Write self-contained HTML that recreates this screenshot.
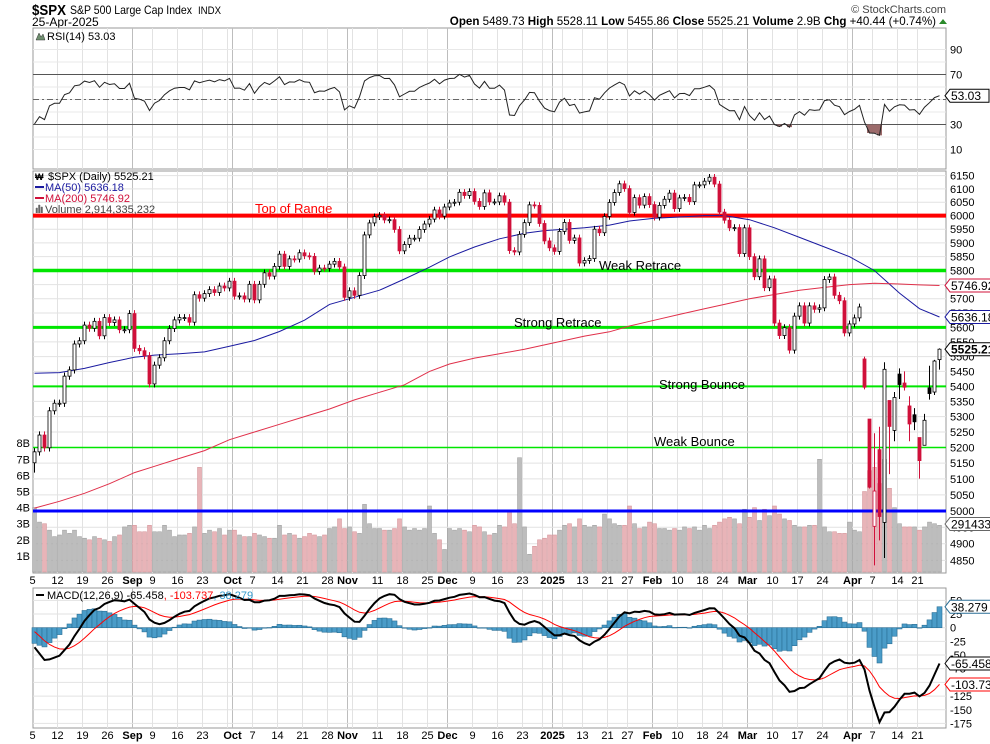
<!DOCTYPE html>
<html><head><meta charset="utf-8"><title>$SPX Daily</title>
<style>
html,body{margin:0;padding:0;background:#fff;}
svg{display:block;font-family:"Liberation Sans",Arial,sans-serif;}
text{font-size:11px;fill:#000;}
</style></head>
<body>
<svg id="chart" width="990" height="744" viewBox="0 0 990 744" xmlns="http://www.w3.org/2000/svg">
<rect x="0" y="0" width="990" height="744" fill="#fff"/>
<g>
<text x="32" y="15" textLength="34" lengthAdjust="spacingAndGlyphs" style="font-size:15px;font-weight:bold">$SPX</text>
<text x="70" y="14" textLength="122" lengthAdjust="spacingAndGlyphs" style="font-size:12px">S&amp;P 500 Large Cap Index</text>
<text x="198" y="14" textLength="23" lengthAdjust="spacingAndGlyphs" style="font-size:11px">INDX</text>
<text x="32" y="26" style="font-size:12px">25-Apr-2025</text>
<text x="946" y="13" text-anchor="end" style="font-size:11px;fill:#444">© StockCharts.com</text>
<text x="936" y="25" text-anchor="end" style="font-size:11.6px"><tspan font-weight="bold">Open</tspan> 5489.73  <tspan font-weight="bold">High</tspan> 5528.11  <tspan font-weight="bold">Low</tspan> 5455.86  <tspan font-weight="bold">Close</tspan> 5525.21  <tspan font-weight="bold">Volume</tspan> 2.9B  <tspan font-weight="bold">Chg</tspan> +40.44 (+0.74%)</text>
<path d="M939 24 L943 19 L947 24 Z" fill="#2a8a2a"/>
</g>
<g id="g-grid"></g>
<g id="g-vol"></g>
<g id="g-lines"></g>
<g id="g-ma"></g>
<g id="g-candles"></g>
<g id="g-rsi"></g>
<g id="g-macd"></g>
<g id="g-axes"></g>
<g id="g-labels"></g>
</svg>
<script>
// ---- data ----
const closes = [
5186,5240,5199,5319,5344,5344,5434,5455,5543,5554,5608,5597,5621,5571,5634,5617,5626,5592,5592,5648,
5528,5520,5503,5408,5471,5496,5554,5596,5626,5634,5634,5618,5714,5702,5718,5732,5722,5745,5738,5762,
5709,5710,5699,5751,5696,5751,5792,5780,5815,5859,5815,5842,5841,5864,5853,5851,5797,5809,5808,5823,5833,5813,5705,
5728,5712,5782,5929,5973,5996,6001,5984,5985,5949,5871,5894,5917,5917,5949,5969,5987,6021,5998,6032,
6047,6050,6087,6075,6090,6053,6034,6085,6051,6051,6074,6050,5872,5867,5931,5974,6040,6038,5971,5907,5882,
5869,5942,5975,5909,5918,5827,5836,5843,5950,5937,5997,6049,6086,6119,6101,6012,6067,6039,6071,6041,
5994,6038,6061,6084,6026,6066,6068,6052,6115,6115,6129,6144,6118,6013,5983,5955,5956,5861,5955,
5850,5778,5842,5739,5770,5615,5572,5599,5522,5639,5675,5615,5675,5663,5668,5768,5777,5712,5693,5581,5612,
5633,5671,5397,5074,5062,4983,5457,5268,5363,5406,5397,5276,5283,5158,5288,5376,5485,5525.21];
const volumes = [
4.0,3.1,3.0,2.6,2.2,2.3,2.6,2.4,2.6,2.2,2.1,2.0,2.2,2.1,2.0,1.9,2.2,2.3,2.8,2.9,
2.9,2.5,2.5,2.9,2.5,2.5,2.9,2.6,2.2,2.3,2.3,2.4,2.8,6.5,2.4,2.6,2.5,2.7,2.3,2.6,
2.6,2.3,2.2,2.2,2.4,2.3,2.2,2.1,2.1,2.9,2.3,2.4,2.3,2.1,2.2,2.4,2.3,2.2,2.3,2.7,2.8,3.3,2.7,
2.8,2.5,2.4,4.2,3.0,2.7,2.7,2.6,2.6,2.7,3.3,2.8,2.6,2.7,2.6,2.7,4.1,2.4,2.0,1.4,
2.7,2.6,2.7,2.6,2.5,2.9,2.8,2.5,2.3,2.4,2.9,2.8,3.8,3.0,7.1,2.8,1.1,1.6,2.0,2.1,2.3,
2.3,2.6,2.9,3.0,2.8,3.3,2.9,2.8,2.9,2.8,3.6,3.3,3.0,2.9,2.9,4.1,3.0,2.7,2.8,3.1,
3.0,2.7,2.7,2.6,2.7,2.6,2.8,2.7,2.8,2.6,2.9,2.7,2.9,3.1,3.3,3.4,3.3,3.0,3.9,
3.4,4.0,3.2,3.9,3.5,4.1,3.6,3.3,3.2,2.9,2.8,2.8,2.9,2.9,7.0,2.8,2.5,2.5,2.4,2.4,3.1,
2.6,2.5,5.0,6.3,6.5,5.5,7.0,5.2,4.0,3.0,2.8,2.8,2.8,2.6,2.8,3.1,3.0,2.9];
// sparse OHLC overrides (day index -> value)
const openOverride = {0:5151,166:5492,167:5292,168:4953,169:5193,170:4965,171:5353,172:5255,173:5441,174:5411,175:5335,176:5306,177:5232,178:5207,179:5395,180:5381,181:5489.73};
const highOverride = {166:5500,167:5292,168:5246,169:5267,170:5481,171:5353,172:5381,173:5460,174:5450,175:5367,176:5328,177:5232,178:5309,179:5469,180:5489,181:5528.11};
const lowOverride  = {0:5120,166:5390,167:5070,168:4835,169:4910,170:4857,171:5115,172:5220,173:5358,174:5386,175:5220,176:5256,177:5101,178:5207,179:5356,180:5371,181:5455.86};
// moving averages read at each week start + final day
const ma50Values  = [5444,5446,5460,5480,5498,5505,5510,5516,5535,5555,5586,5625,5680,5705,5730,5770,5812,5849,5885,5915,5935,5945,5950,5955,5965,5980,5990,5995,6000,6000,5985,5955,5920,5885,5850,5800,5720,5665,5636.18];
const ma200Values = [5009,5030,5055,5085,5120,5140,5165,5190,5225,5250,5275,5300,5325,5355,5380,5405,5450,5475,5495,5510,5525,5540,5555,5570,5585,5605,5625,5645,5665,5680,5700,5715,5730,5740,5750,5755,5752,5749,5746.92];
const priceTicks = [4850,4900,4950,5000,5050,5100,5150,5200,5250,5300,5350,5400,5450,5500,5550,5600,5650,5700,5750,5800,5850,5900,5950,6000,6050,6100,6150];
const volTicks = [1,2,3,4,5,6,7,8];
const rsiTicks = [10,30,50,70,90];
const macdTicks = [50,25,0,-25,-50,-75,-100,-125,-150,-175];
const levelPrices = [6000,5800,5600,5400,5200,5000];
const levelNames  = ["Top of Range","Weak Retrace","Strong Retrace","Strong Bounce","Weak Bounce",""];
const holidays = ["2024-09-02","2024-11-28","2024-12-25","2025-01-01","2025-01-09","2025-01-20","2025-02-17","2025-04-18"];
const monthNames = ["2025","Feb","Mar","Apr","May","Jun","Jul","Aug","Sep","Oct","Nov","Dec"];

// ---- scales ----
const X0=34.5, DX=5, L=33, R=946;
const px = i => X0 + DX*i;
const py = p => 511 - 1620*Math.log(p/5000);
const vy = v => 572 - 16.1*v;
const ry = r => 162 - 1.25*r;
const my = m => 627.7 - 0.547*m;
const NS="http://www.w3.org/2000/svg";
function mk(parent, tag, attrs, txt){const e=document.createElementNS(NS,tag);for(const k in attrs)e.setAttribute(k,attrs[k]);if(txt!==undefined)e.textContent=txt;parent.appendChild(e);return e;}
const G = id => document.getElementById(id);

// ---- dates ----
const dates=[];
{let d=new Date(Date.UTC(2024,7,5));const end=Date.UTC(2025,3,25);
 while(d.getTime()<=end){const w=d.getUTCDay();const s=d.toISOString().slice(0,10);
  if(w>0&&w<6&&holidays.indexOf(s)<0)dates.push(new Date(d.getTime()));
  d=new Date(d.getTime()+86400000);}}
const N = closes.length;
const weekStarts=[], monthStarts=[];
for(let i=0;i<N;i++){
  if(i===0 || (dates[i]-dates[i-1])>86400000*1.5 && dates[i].getUTCDay()<=dates[i-1].getUTCDay()) weekStarts.push(i);
  if(i>0 && dates[i].getUTCMonth()!==dates[i-1].getUTCMonth()) monthStarts.push(i);
}
const maIdx = weekStarts.concat([N-1]);

// ---- panels & grid ----
const grid=G('g-grid');
const panels=[["rsi-panel",28,169],["price-panel",171,573],["macd-panel",588,728]];
panels.forEach(p=>{
  const r=mk(grid,'rect',{x:L,y:p[1],width:R-L,height:p[2]-p[1],fill:'#fff',stroke:'#999','stroke-width':1});
  
  
});
panels.forEach(p=>{
  weekStarts.forEach(i=>{ if(i===0)return;
    const l=mk(grid,'line',{x1:px(i)-2,x2:px(i)-2,y1:p[1],y2:p[2],stroke:'#e2e2e2'});
    
    
  });
  monthStarts.forEach(i=>{
    const l=mk(grid,'line',{x1:px(i)-2,x2:px(i)-2,y1:p[1],y2:p[2],stroke:'#bdbdbd'});
    
    
  });
});
priceTicks.forEach(t=>{
  const l=mk(grid,'line',{x1:L,x2:R,y1:py(t),y2:py(t),stroke:'#e2e2e2'});
  
  
});
for(let r=10;r<=90;r+=10){
  const l=mk(grid,'line',{x1:L,x2:R,y1:ry(r),y2:ry(r),stroke:'#e8e8e8'});
  
  
}
macdTicks.forEach(t=>{
  const l=mk(grid,'line',{x1:L,x2:R,y1:my(t),y2:my(t),stroke:'#e2e2e2'});
  
  
});

// ---- OHLC ----
const opens=[],highs=[],lows=[];
for(let i=0;i<N;i++){
  const o = openOverride[i]!==undefined?openOverride[i]:closes[i-1];
  opens.push(o);
  highs.push(highOverride[i]!==undefined?highOverride[i]:Math.max(o,closes[i])+12);
  lows.push(lowOverride[i]!==undefined?lowOverride[i]:Math.min(o,closes[i])-12);
}

// ---- volume ----
const gv=G('g-vol');
for(let i=0;i<N;i++){
  const down = i>0 && closes[i]<closes[i-1];
  const b=mk(gv,'rect',{x:px(i)-2,y:vy(volumes[i]),width:4,height:572-vy(volumes[i]),fill:down?'#e8b4b8':'#bdbdbd',stroke:down?'#d28d93':'#9a9a9a','stroke-width':0.5});
  
  
}

// ---- support / resistance lines ----
const gl=G('g-lines');
const lineStyles=[['#ff0000',4],['#00e600',3.5],['#00e600',3],['#00e600',2],['#00e600',1.5],['#0000ff',3]];
levelPrices.forEach((p,k)=>{
  const l=mk(gl,'line',{x1:L,x2:R,y1:py(p),y2:py(p),stroke:lineStyles[k][0],'stroke-width':lineStyles[k][1]});
  
  
});
const lblPos=[[255,213,'#ff0000'],[599,270,'#000'],[514,327,'#000'],[659,389,'#000'],[654,446,'#000']];
levelNames.forEach((n,k)=>{ if(!n)return;
  const t=mk(gl,'text',{x:lblPos[k][0],y:lblPos[k][1],style:'font-size:13px;fill:'+lblPos[k][2]},n);
  
  
});

// ---- moving averages ----
const gm=G('g-ma');
function maPath(vals){return vals.map((v,k)=>(k?'L':'M')+px(maIdx[k]).toFixed(1)+' '+py(v).toFixed(1)).join(' ');}
const m50=mk(gm,'path',{d:maPath(ma50Values),fill:'none',stroke:'#1a1aa0','stroke-width':1});


const m200=mk(gm,'path',{d:maPath(ma200Values),fill:'none',stroke:'#e0304a','stroke-width':1});



// ---- candles ----
const gc=G('g-candles');
for(let i=0;i<N;i++){
  const o=opens[i],c=closes[i];
  const down = i>0 && c<closes[i-1];
  const col = down?'#d0103a':'#000';
  const x=px(i);
  const w=mk(gc,'line',{x1:x,x2:x,y1:py(highs[i]),y2:py(lows[i]),stroke:col,'stroke-width':1});
  
  
  const top=py(Math.max(o,c)), bot=py(Math.min(o,c));
  const b=mk(gc,'rect',{x:x-1.5,y:top,width:3,height:Math.max(1,bot-top),fill:c<o?col:'#fff',stroke:col,'stroke-width':0.8});
  
  
}

// ---- RSI ----
const gr=G('g-rsi');
const rsi=[];
{let ag=15,al=22,prev=5346;
 for(let i=0;i<N;i++){const ch=closes[i]-prev;prev=closes[i];
  ag=(ag*13+Math.max(ch,0))/14; al=(al*13+Math.max(-ch,0))/14; rsi.push(100-100/(1+ag/al));}}
[[70,'#555','none'],[30,'#555','none'],[50,'#666','6 3 2 3']].forEach(s=>{
  const l=mk(gr,'line',{x1:L,x2:R,y1:ry(s[0]),y2:ry(s[0]),stroke:s[1],'stroke-dasharray':s[2]});
  
  
});
{let d='';for(let i=0;i<N;i++){ if(rsi[i]<30){ d+='M'+(px(i)-2.5)+' '+ry(30)+' L'+(px(i)+2.5)+' '+ry(30)+' L'+(px(i)+2.5)+' '+ry(rsi[i])+' L'+(px(i)-2.5)+' '+ry(rsi[i])+' Z ';}}
 if(d){const f=mk(gr,'path',{d:d,fill:'#9c6b6b'});
 
 }}
const rp=mk(gr,'path',{d:rsi.map((v,i)=>(i?'L':'M')+px(i)+' '+ry(v).toFixed(1)).join(' '),fill:'none',stroke:'#222','stroke-width':1});



// ---- MACD ----
const gmc=G('g-macd');
const macd=[],sig=[];
{let e12=5460,e26=5475,s=0;
 for(let i=0;i<N;i++){e12+= (closes[i]-e12)*2/13; e26+=(closes[i]-e26)*2/27; const m=e12-e26; s+=(m-s)*2/10; macd.push(m); sig.push(s);}}
for(let i=0;i<N;i++){
  const h=macd[i]-sig[i];
  const b=mk(gmc,'rect',{x:px(i)-2.5,y:Math.min(my(0),my(h)),width:5,height:Math.max(0.5,Math.abs(my(h)-my(0))),fill:'#4a9cc8',stroke:'#2a6f96','stroke-width':0.6});
  
  
}
const sp=mk(gmc,'path',{d:sig.map((v,i)=>(i?'L':'M')+px(i)+' '+my(v).toFixed(1)).join(' '),fill:'none',stroke:'#ff0000','stroke-width':1});


const mp=mk(gmc,'path',{d:macd.map((v,i)=>(i?'L':'M')+px(i)+' '+my(v).toFixed(1)).join(' '),fill:'none',stroke:'#000','stroke-width':2});



// ---- axes labels ----
const ga=G('g-axes');
priceTicks.forEach(t=>{
  const e=mk(ga,'text',{x:950,y:py(t)+4},String(t));
  
  
});
volTicks.forEach(t=>{
  const e=mk(ga,'text',{x:30,y:vy(t)+4,'text-anchor':'end'},t+'B');
  
  
});
rsiTicks.forEach(t=>{
  if(t===50)return;
  const e=mk(ga,'text',{x:950,y:ry(t)+4},String(t));
  
  
});
macdTicks.forEach(t=>{
  const e=mk(ga,'text',{x:950,y:my(t)+4},String(t));
  
  
});
const xl=[];
monthStarts.forEach(i=>xl.push([i,monthNames[dates[i].getUTCMonth()],true]));
weekStarts.forEach(i=>{ if(monthStarts.some(m=>Math.abs(m-i)<=3))return; xl.push([i,String(dates[i].getUTCDate()),false]);});
[584,739].forEach(yy=>{
  xl.forEach(a=>{
    const e=mk(ga,'text',{x:px(a[0])-2,y:yy,'text-anchor':'middle',style:'font-size:11px'+(a[2]?';font-weight:bold':'')},a[1]);
    
    
  });
});

// ---- legends & value tags ----
const gt=G('g-labels');
function tag(y,txt,col,bold,name){
  const g=mk(gt,'g',{});
  
  
  const w=txt.length*6.6+6;
  mk(g,'path',{d:'M945 '+y+' L950 '+(y-6.5)+' L'+(950+w)+' '+(y-6.5)+' L'+(950+w)+' '+(y+6.5)+' L950 '+(y+6.5)+' Z',fill:'#fff',stroke:col,'stroke-width':1});
  mk(g,'text',{x:951,y:y+4.5,style:'font-size:12px'+(bold?';font-weight:bold':'')},txt);
}
tag(py(5746.92),'5746.92','#d0103a',false,'ma200-value-tag');
tag(py(5636.18),'5636.18','#1a1aa0',false,'ma50-value-tag');
tag(py(5525.21),'5525.21','#000',true,'close-value-tag');
tag(524,'2914335','#666',false,'volume-value-tag');
tag(ry(rsi[N-1]),'53.03','#000',false,'rsi-value-tag');
tag(my(38.279),'38.279','#2a6f96',false,'macd-hist-value-tag');
tag(my(-65.458),'-65.458','#000',false,'macd-value-tag');
tag(my(-103.737),'-103.737','#ff0000',false,'macd-signal-value-tag');

const leg=[[180,'$SPX (Daily) 5525.21','#000','price-legend'],[191,'MA(50) 5636.18','#1a1aa0','ma50-legend'],[202,'MA(200) 5746.92','#d0103a','ma200-legend'],[213,'Volume 2,914,335,232','#444','volume-legend']];
leg.forEach(a=>{
  const e=mk(gt,'text',{x:a[0]===180?48:45,y:a[0],style:'font-size:11px;fill:'+a[2]},a[1]);
  
  
});
[[191,'#1a1aa0'],[202,'#d0103a']].forEach(a=>{
  const l=mk(gt,'line',{x1:35,x2:44,y1:a[0]-4,y2:a[0]-4,stroke:a[1],'stroke-width':2});
  
  
});
const ic=mk(gt,'text',{x:35,y:180,style:'font-size:9px;font-weight:bold'},'₩');


const vi=mk(gt,'path',{d:'M36 213 v-5 h1.5 v5 M38.5 213 v-8 h1.5 v8 M41 213 v-6 h1.5 v6',fill:'#666',stroke:'#666','stroke-width':0.5});


const ri=mk(gt,'path',{d:'M36 40 L39 33 L41 37 L43 34 L45 40 Z',fill:'#6f8f6f',stroke:'#333','stroke-width':0.5});


const rl=mk(gt,'text',{x:47,y:40,style:'font-size:11px'},'RSI(14) 53.03');


const ml=mk(gt,'line',{x1:36,x2:44,y1:595,y2:595,stroke:'#000','stroke-width':2});


const mt=mk(gt,'text',{x:47,y:599,style:'font-size:11px'});


mk(mt,'tspan',{},'MACD(12,26,9) -65.458');
mk(mt,'tspan',{fill:'#ff0000'},', -103.737');
mk(mt,'tspan',{fill:'#3399cc'},', 38.279');
</script>
</body></html>
